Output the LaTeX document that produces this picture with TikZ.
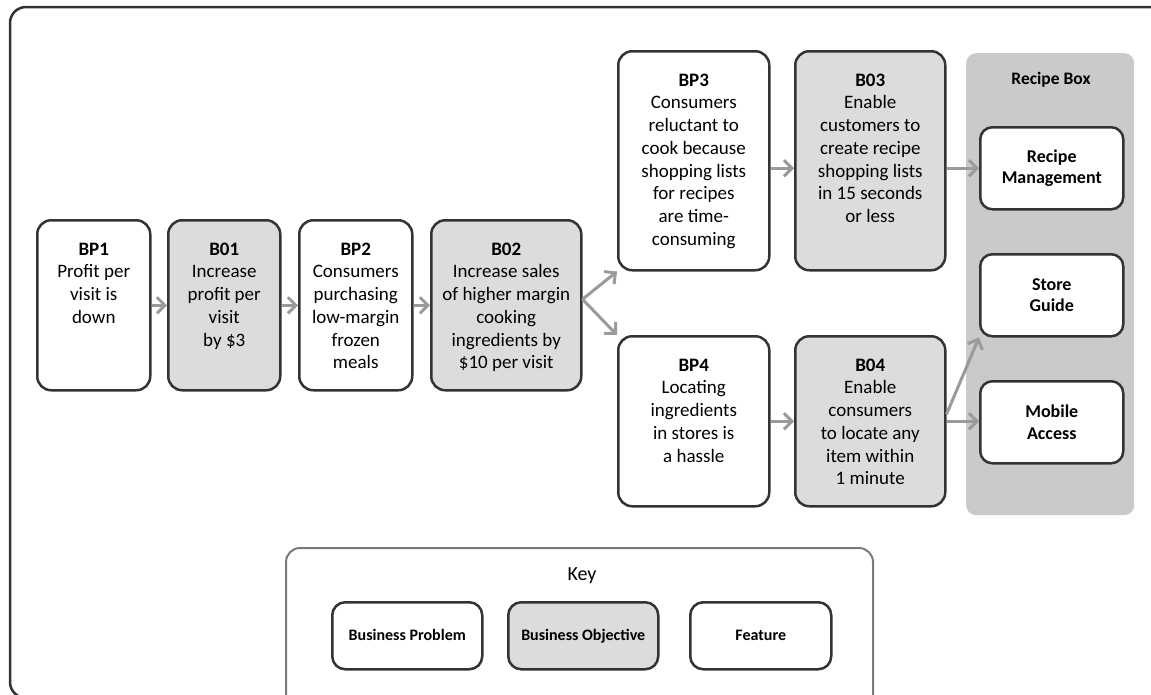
\documentclass[tikz,border=0pt]{standalone}
\usepackage{fontspec}
\setmainfont{Carlito}
\usetikzlibrary{arrows.meta}

\definecolor{edge}{HTML}{333333}
\definecolor{objfill}{HTML}{DCDCDC}
\definecolor{panelfill}{HTML}{CACACA}
\definecolor{flowgray}{HTML}{9A9A9A}
\definecolor{keyedge}{HTML}{7A7A7A}

% top-aligned text block of a fixed size: width, height, lines
\newcommand{\stagetext}[3]{\parbox[c][#2pt][t]{#1pt}{\centering\rule{0pt}{35pt}#3}}

\tikzset{
  stage/.style={draw=edge, line width=2.5pt, rounded corners=14pt, inner sep=0pt,
    anchor=north west, font=\fontsize{19}{22.7}\selectfont},
  problem/.style={stage, fill=white},
  objective/.style={stage, fill=objfill},
  feature/.style={draw=edge, line width=2.5pt, rounded corners=12pt, fill=white,
    inner sep=0pt, anchor=north west, align=center,
    minimum width=143pt, minimum height=82pt,
    font=\bfseries\fontsize{18}{21.5}\selectfont},
  keyitem/.style={draw=edge, line width=2.5pt, rounded corners=13pt, inner sep=0pt,
    anchor=north west, minimum height=67pt, text height=11pt, text depth=2pt,
    font=\bfseries\fontsize{16}{18}\selectfont},
  flow/.style={draw=flowgray, line width=3pt, -{Straight Barb[length=8pt,width=16pt]}},
}

\begin{document}
\begin{tikzpicture}[x=1pt, y=-1pt]
  \useasboundingbox (0,0) rectangle (1151,694);
  \clip (0,0) rectangle (1151,694);
  \fill[white] (0,0) rectangle (1151,694);

  % outer frame
  \draw[edge, line width=2.5pt, rounded corners=16pt] (10,7) rectangle (1200,698);

  % problem / objective chain
  \node[problem]   (bp1) at (36,219)  {\stagetext{113}{170}{\textbf{BP1}\\Profit per\\visit is\\down}};
  \node[objective] (b01) at (167,219) {\stagetext{112}{170}{\textbf{B01}\\Increase\\profit per\\visit\\by \$3}};
  \node[problem]   (bp2) at (298,219) {\stagetext{113}{170}{\textbf{BP2}\\Consumers\\purchasing\\low-margin\\frozen\\meals}};
  \node[objective] (b02) at (430,219) {\stagetext{150}{170}{\textbf{B02}\\Increase sales\\of higher margin\\cooking\\ingredients by\\\$10 per visit}};
  \node[problem]   (bp3) at (617,50)  {\stagetext{151}{219}{\textbf{BP3}\\Consumers\\reluctant to\\cook because\\shopping lists\\for recipes\\are time-\\consuming}};
  \node[objective] (b03) at (794,50)  {\stagetext{150}{219}{\textbf{B03}\\Enable\\customers to\\create recipe\\shopping lists\\in 15 seconds\\or less}};
  \node[problem]   (bp4) at (617,335) {\stagetext{151}{170}{\textbf{BP4}\\Locating\\ingredients\\in stores is\\a hassle}};
  \node[objective] (b04) at (794,335) {\stagetext{150}{170}{\textbf{B04}\\Enable\\consumers\\to locate any\\item within\\1 minute}};

  % feature panel
  \node[fill=panelfill, rounded corners=10pt, inner sep=0pt, anchor=north west,
        minimum width=168pt, minimum height=462pt] (panel) at (966,53) {};
  \node[font=\bfseries\fontsize{17.5}{20}\selectfont] (paneltitle) at (1051,80) {Recipe Box};
  \node[feature] (rm) at (979,126) {Recipe\\Management};
  \node[feature] (sg) at (979,253) {Store\\Guide};
  \node[feature] (ma) at (979,380) {Mobile\\Access};

  % connectors
  \draw[flow] (bp1.east) -- (b01.west);
  \draw[flow] (b01.east) -- (bp2.west);
  \draw[flow] (bp2.east) -- (b02.west);
  \draw[flow] ([yshift=6pt]b02.east) -- (bp3.south west);
  \draw[flow] ([yshift=6pt]b02.east) -- (bp4.north west);
  \draw[flow] (bp3.east |- rm.west) -- (b03.west |- rm.west);
  \draw[flow] (b03.east |- rm.west) -- (rm.west);
  \draw[flow] (bp4.east) -- (b04.west);
  \draw[flow] ([yshift=7pt]b04.east) -- (sg.south west);
  \draw[flow] (b04.east) -- (b04.east -| ma.west);

  % key
  \draw[keyedge, line width=2pt, rounded corners=14pt] (286,548) rectangle (873,740);
  \node[font=\fontsize{20}{24}\selectfont] (keytitle) at (582,576) {Key};
  \node[keyitem, fill=white, minimum width=150pt] (kp) at (331,601) {Business Problem};
  \node[keyitem, fill=objfill, minimum width=150pt] (ko) at (507,601) {Business Objective};
  \node[keyitem, fill=white, minimum width=141pt] (kf) at (689,601) {Feature};
\end{tikzpicture}
\end{document}
